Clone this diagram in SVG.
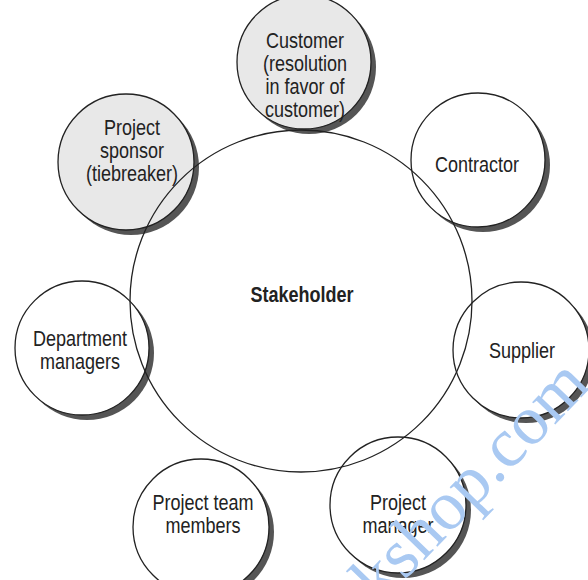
<svg xmlns="http://www.w3.org/2000/svg" width="588" height="580" viewBox="0 0 588 580">
<style>
.sh{fill:#555555;stroke:none}
.n{fill:#ffffff;stroke:#222222;stroke-width:1.3}
.g{fill:#e8e8e8;stroke:#222222;stroke-width:1.3}
.big{fill:none;stroke:#222222;stroke-width:1.3}
text{font-family:"Liberation Sans",Arial,sans-serif;font-size:22px;fill:#222222;text-anchor:middle}
.b{font-weight:bold}
.wm{font-family:"Liberation Serif","DejaVu Serif",serif;font-size:70px;fill:#a9c9f2;text-anchor:start}
</style>
<rect width="588" height="580" fill="#ffffff"/>
<g id="shadows">
<circle class="sh" cx="309" cy="67" r="67"/>
<circle class="sh" cx="131" cy="167" r="68"/>
<circle class="sh" cx="483" cy="165" r="67"/>
<circle class="sh" cx="87" cy="353" r="67"/>
<circle class="sh" cx="526" cy="355" r="68"/>
<circle class="sh" cx="206" cy="532" r="68"/>
<circle class="sh" cx="403" cy="510" r="68"/>
</g>
<g id="customer"><circle class="g" cx="304" cy="62" r="67"/>
<text transform="translate(305,48) scale(0.82,1)">Customer</text>
<text transform="translate(305,71) scale(0.82,1)">(resolution</text>
<text transform="translate(305,94) scale(0.82,1)">in favor of</text>
<text transform="translate(305,117) scale(0.82,1)">customer)</text></g>
<g id="sponsor"><circle class="g" cx="126" cy="162" r="68"/>
<text transform="translate(132,135) scale(0.82,1)">Project</text>
<text transform="translate(132,158) scale(0.82,1)">sponsor</text>
<text transform="translate(132,181) scale(0.82,1)">(tiebreaker)</text></g>
<g id="contractor"><circle class="n" cx="478" cy="160" r="67"/>
<text transform="translate(477,172) scale(0.82,1)">Contractor</text></g>
<g id="department"><circle class="n" cx="82" cy="348" r="67"/>
<text transform="translate(80,346) scale(0.82,1)">Department</text>
<text transform="translate(80,369) scale(0.82,1)">managers</text></g>
<g id="supplier"><circle class="n" cx="521" cy="350" r="68"/>
<text transform="translate(522,358) scale(0.82,1)">Supplier</text></g>
<g id="team"><circle class="n" cx="201" cy="527" r="68"/>
<text transform="translate(203,510) scale(0.82,1)">Project team</text>
<text transform="translate(203,533) scale(0.82,1)">members</text></g>
<g id="manager"><circle class="n" cx="398" cy="505" r="68"/>
<text transform="translate(398,510) scale(0.82,1)">Project</text>
<text transform="translate(398,533) scale(0.82,1)">manager</text></g>
<g id="stakeholder"><circle class="big" cx="301" cy="301" r="171"/>
<text class="b" transform="translate(302,302) scale(0.82,1)">Stakeholder</text></g>
<g id="connectors"></g>
<text class="wm" transform="translate(380,606) rotate(-46)">kshop.com</text>
</svg>
